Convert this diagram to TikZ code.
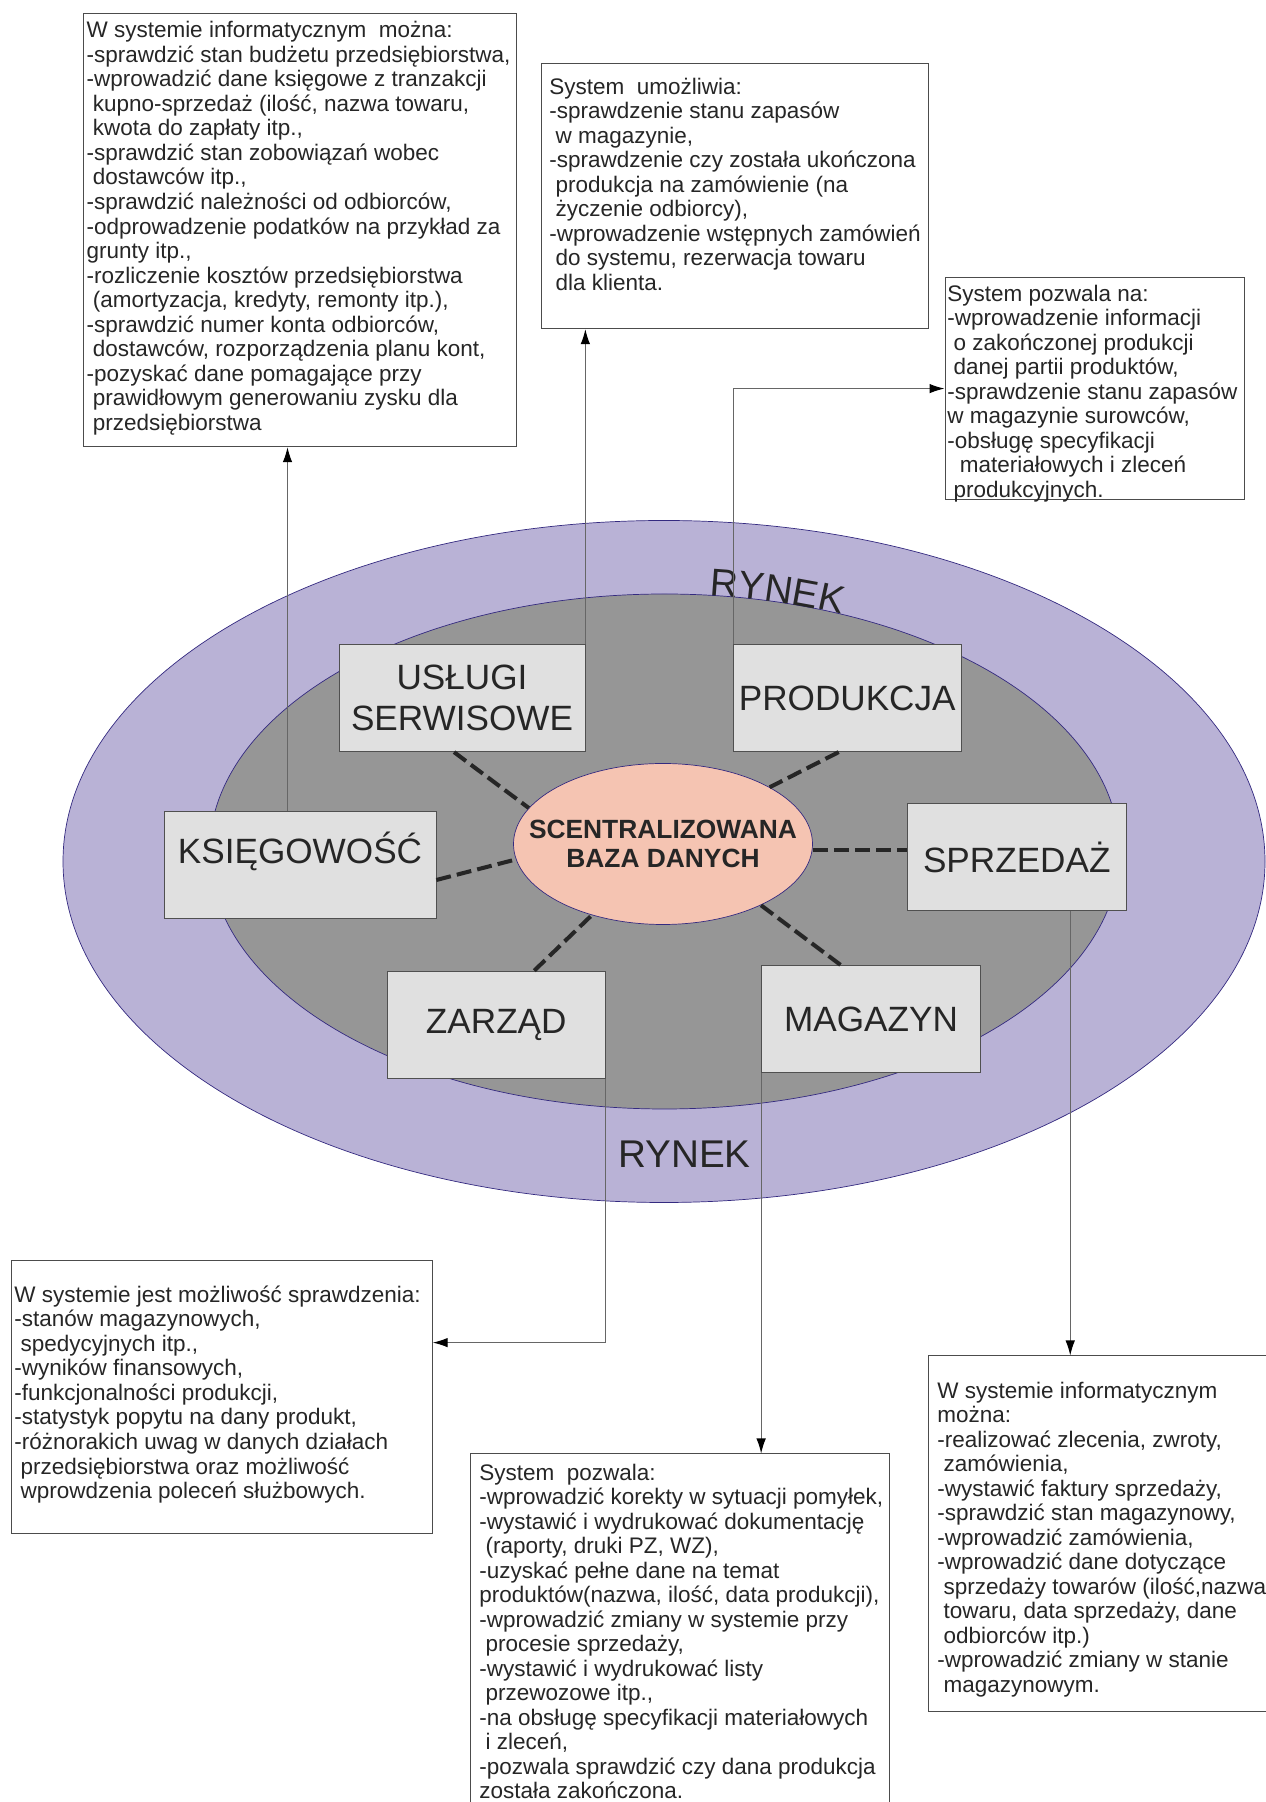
\documentclass[tikz,border=0pt]{standalone}
\usepackage{fontspec}
\setmainfont{Liberation Sans}
\usetikzlibrary{shapes.geometric,arrows.meta,calc,decorations.text}

\definecolor{rynekfill}{RGB}{185,178,214}
\definecolor{rynekline}{RGB}{52,42,128}
\definecolor{corefill}{RGB}{150,150,150}
\definecolor{dbfill}{RGB}{245,196,178}
\definecolor{boxfill}{RGB}{224,224,224}
\definecolor{boxline}{RGB}{80,80,80}

\tikzset{
  dept/.style={draw=boxline, fill=boxfill, minimum height=2.15cm, inner sep=0pt,
    font=\fontsize{20pt}{23pt}\selectfont, text=black!85},
  infobox/.style={draw=black!70, fill=white, anchor=north west, inner sep=0pt},
  infotext/.style={anchor=north west, inner sep=0pt, align=left, text=black!85,
    font=\fontsize{12.8pt}{13.95pt}\selectfont},
  link/.style={line width=2.3pt, black!85, dash pattern=on 8.5pt off 3.5pt},
  feed/.style={draw=black!60, line width=0.6pt,
    -{Latex[length=3mm,width=1.9mm,color=black]}}
}

\begin{document}
\begin{tikzpicture}
    % page
    \useasboundingbox (0,0) rectangle (25.32,36.04);
    \clip (0,0) rectangle (25.32,36.04);
    % market rings
    \filldraw [fill=rynekfill, draw=rynekline] (13.28,18.81) ellipse [x radius=12.02cm, y radius=6.82cm];
    \filldraw [fill=corefill, draw=rynekline] (13.29,19.01) ellipse [x radius=9.10cm, y radius=5.15cm];
    \path [decorate, decoration={text along path, text color=black!85,
      text={|\fontsize{22pt}{24pt}\selectfont|RYNEK}}]
      (13.29,19.01) ++(84.3:9.10cm and 5.15cm) arc [start angle=84.3, end angle=55, x radius=9.10cm, y radius=5.15cm];
    \node [font=\fontsize{22pt}{24pt}\selectfont, text=black!85] (rynekbot) at (13.69,12.95) {RYNEK};
    % departments
    \node [dept, minimum width=4.92cm, align=center] (usl) at (9.24,22.08) {USŁUGI\\SERWISOWE};
    \node [dept, minimum width=4.55cm] (prod) at (16.945,22.08) {PRODUKCJA};
    \node [dept, minimum width=5.44cm, text height=15pt, text depth=17pt] (ksi) at (6.0,18.74) {KSIĘGOWOŚĆ};
    \node [dept, minimum width=4.37cm] (spr) at (20.335,18.9) {SPRZEDAŻ};
    \node [dept, minimum width=4.37cm] (zar) at (9.925,15.545) {ZARZĄD};
    \node [dept, minimum width=4.38cm] (mag) at (17.42,15.66) {MAGAZYN};
    % central database
    \node [ellipse, draw=rynekline, fill=dbfill, minimum width=5.98cm, minimum height=3.22cm,
      inner sep=0pt,
      label={[align=center, text=black!85, font=\bfseries\fontsize{15pt}{16.5pt}\selectfont]center:SCENTRALIZOWANA\\BAZA DANYCH}]
      (db) at (13.26,19.16) {};
    % dashed links
    \draw [link] ([xshift=-0.16cm]usl.south) -- (db.165);
    \draw [link] ([xshift=-0.17cm]prod.south) -- (db.28);
    \draw [link] ([yshift=-0.3cm]ksi.east) -- (db.186);
    \draw [link] ([yshift=-0.12cm]db.east) -- ([yshift=-0.12cm]db.east -| spr.west);
    \draw [link] ([xshift=0.76cm]zar.north) -- (db.225);
    \draw [link] ([xshift=-0.61cm]mag.north) -- (db.-32);
    % description boxes
    \node [infobox, minimum width=8.66cm, minimum height=8.66cm] (tl) at (1.654,35.77) {};
    \node [infobox, minimum width=7.74cm, minimum height=5.31cm] (tm) at (10.82,34.78) {};
    \node [infobox, minimum width=5.99cm, minimum height=4.45cm] (tr) at (18.89,30.50) {};
    \node [infobox, minimum width=8.41cm, minimum height=5.46cm] (bl) at (0.23,10.83) {};
    \node [infobox, minimum width=8.38cm, minimum height=7.5cm] (bm) at (9.40,6.97) {};
    \node [infobox, minimum width=7.5cm, minimum height=7.12cm] (br) at (18.56,8.93) {};
    % description texts
    \node [infotext] (tltext) at ([shift={(0.07,-0.155)}]tl.north west) {%
      W systemie informatycznym\ \ można:\\
      -sprawdzić stan budżetu przedsiębiorstwa,\\
      -wprowadzić dane księgowe z tranzakcji\\
      \ kupno-sprzedaż (ilość, nazwa towaru,\\
      \ kwota do zapłaty itp.,\\
      -sprawdzić stan zobowiązań wobec\\
      \ dostawców itp.,\\
      -sprawdzić należności od odbiorców,\\
      -odprowadzenie podatków na przykład za\\
      grunty itp.,\\
      -rozliczenie kosztów przedsiębiorstwa\\
      \ (amortyzacja, kredyty, remonty itp.),\\
      -sprawdzić numer konta odbiorców,\\
      \ dostawców, rozporządzenia planu kont,\\
      -pozyskać dane pomagające przy\\
      \ prawidłowym generowaniu zysku dla\\
      \ przedsiębiorstwa};
    \node [infotext] (tmtext) at ([shift={(0.16,-0.29)}]tm.north west) {%
      System\ \ umożliwia:\\
      -sprawdzenie stanu zapasów\\
      \ w magazynie,\\
      -sprawdzenie czy została ukończona\\
      \ produkcja na zamówienie (na\\
      \ życzenie odbiorcy),\\
      -wprowadzenie wstępnych zamówień\\
      \ do systemu, rezerwacja towaru\\
      \ dla klienta.};
    \node [infotext] (trtext) at ([shift={(0.05,-0.155)}]tr.north west) {%
      System pozwala na:\\
      -wprowadzenie informacji\\
      \ o zakończonej produkcji\\
      \ danej partii produktów,\\
      -sprawdzenie stanu zapasów\\
      w magazynie surowców,\\
      -obsługę specyfikacji\\
      \ \ materiałowych i zleceń\\
      \ produkcyjnych.};
    \node [infotext] (bltext) at ([shift={(0.05,-0.50)}]bl.north west) {%
      W systemie jest możliwość sprawdzenia:\\
      -stanów magazynowych,\\
      \ spedycyjnych itp.,\\
      -wyników finansowych,\\
      -funkcjonalności produkcji,\\
      -statystyk popytu na dany produkt,\\
      -różnorakich uwag w danych działach\\
      \ przedsiębiorstwa oraz możliwość\\
      \ wprowdzenia poleceń służbowych.};
    \node [infotext] (bmtext) at ([shift={(0.18,-0.20)}]bm.north west) {%
      System\ \ pozwala:\\
      -wprowadzić korekty w sytuacji pomyłek,\\
      -wystawić i wydrukować dokumentację\\
      \ (raporty, druki PZ, WZ),\\
      -uzyskać pełne dane na temat\\
      produktów(nazwa, ilość, data produkcji),\\
      -wprowadzić zmiany w systemie przy\\
      \ procesie sprzedaży,\\
      -wystawić i wydrukować listy\\
      \ przewozowe itp.,\\
      -na obsługę specyfikacji materiałowych\\
      \ i zleceń,\\
      -pozwala sprawdzić czy dana produkcja\\
      została zakończona.};
    \node [infotext] (brtext) at ([shift={(0.18,-0.52)}]br.north west) {%
      W systemie informatycznym\\
      można:\\
      -realizować zlecenia, zwroty,\\
      \ zamówienia,\\
      -wystawić faktury sprzedaży,\\
      -sprawdzić stan magazynowy,\\
      -wprowadzić zamówienia,\\
      -wprowadzić dane dotyczące\\
      \ sprzedaży towarów (ilość,nazwa\\
      \ towaru, data sprzedaży, dane\\
      \ odbiorców itp.)\\
      -wprowadzić zmiany w stanie\\
      \ magazynowym.};
    % arrows to descriptions
    \draw [feed] ([xshift=-0.25cm]ksi.north) -- ([xshift=-0.25cm]ksi.north |- tl.south);
    \draw [feed] (usl.north east) -- (usl.north east |- tm.south);
    \draw [feed] (prod.north west) |- (tr.west);
    \draw [feed] ([xshift=1.07cm]spr.south) -- ([xshift=1.07cm]spr.south |- br.north);
    \draw [feed] (mag.south west) -- (mag.south west |- bm.north);
    \draw [feed] (zar.south east) |- ($(bl.north east)!0.3!(bl.south east)$);
\end{tikzpicture}
\end{document}
